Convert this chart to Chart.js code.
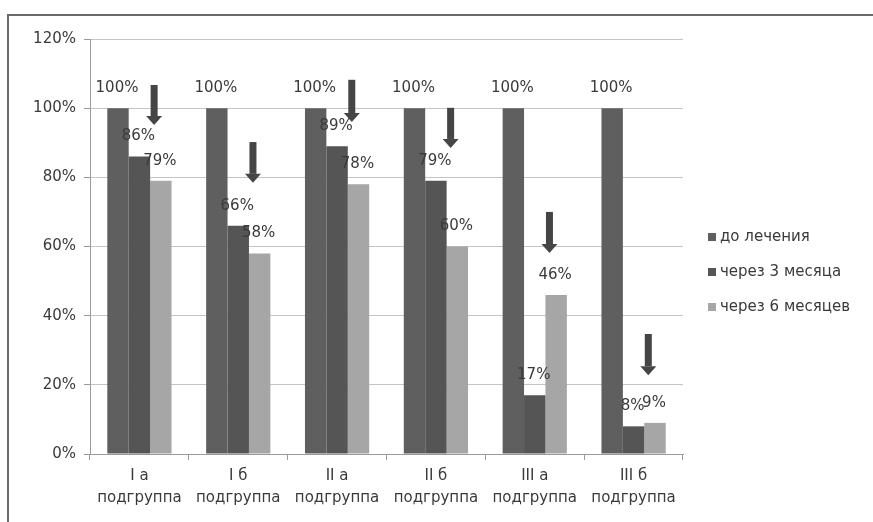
<!DOCTYPE html>
<html>
<head>
<meta charset="utf-8">
<script src="https://cdn.jsdelivr.net/npm/chart.js@4.4.0/dist/chart.umd.min.js"></script>
<style>
  html, body { margin: 0; padding: 0; background: #fff; }
  #wrap { width: 873px; height: 522px; position: relative; }
</style>
</head>
<body>
<div id="wrap"><canvas id="grafico" width="873" height="522"></canvas></div>
<script>
// ==========================
// Dados
// ==========================
const grupos = [['I а', 'подгруппа'], ['I б', 'подгруппа'], ['II а', 'подгруппа'], ['II б', 'подгруппа'], ['III а', 'подгруппа'], ['III б', 'подгруппа']];
const seriesNomes = ['до лечения', 'через 3 месяца', 'через 6 месяцев'];
const doLecheniya = [100, 100, 100, 100, 100, 100];
const cherez3 = [86, 66, 89, 79, 17, 8];
const cherez6 = [79, 58, 78, 60, 46, 9];
const yTicks = [0, 20, 40, 60, 80, 100, 120];
// setas (em %): início e ponta
const setaTopo = [106.7, 90.2, 108.2, 100.1, 70.0, 34.7];
const setaPonta = [95.1, 78.4, 96.0, 88.5, 58.1, 22.8];

const cores = ['#5f5f5f', '#555555', '#a6a6a6'];
const FONTE = '"DejaVu Sans", sans-serif';
const TXT = '#3a3a3a';

// ==========================
// Plugins
// ==========================
const moldura = {
  id: 'moldura',
  beforeDraw(chart) {
    const c = chart.ctx;
    c.save();
    c.strokeStyle = '#6a6a6a';
    c.lineWidth = 2;
    c.beginPath();
    c.moveTo(8, 522);
    c.lineTo(8, 15);
    c.lineTo(873, 15);
    c.stroke();
    c.restore();
  }
};

const rotulos = {
  id: 'rotulos',
  afterDatasetsDraw(chart) {
    const c = chart.ctx;
    c.save();
    c.font = '15px ' + FONTE;
    c.fillStyle = TXT;
    c.textAlign = 'center';
    c.textBaseline = 'middle';
    chart.data.datasets.forEach((ds, i) => {
      chart.getDatasetMeta(i).data.forEach((bar, j) => {
        c.fillText(ds.data[j] + '%', bar.x - 1, bar.y - 20);
      });
    });
    c.restore();
  }
};

const setas = {
  id: 'setas',
  afterDatasetsDraw(chart) {
    const c = chart.ctx;
    const y = chart.scales.y;
    const m2 = chart.getDatasetMeta(1).data;
    const m3 = chart.getDatasetMeta(2).data;
    c.save();
    c.fillStyle = '#454545';
    setaTopo.forEach((topo, j) => {
      const x = (m2[j].x + m3[j].x) / 2 + 4;
      const y0 = y.getPixelForValue(topo);
      const y1 = y.getPixelForValue(setaPonta[j]);
      const cab = 9;
      c.fillRect(x - 3.5, y0, 7, y1 - y0 - cab);
      c.beginPath();
      c.moveTo(x - 8, y1 - cab);
      c.lineTo(x + 8, y1 - cab);
      c.lineTo(x, y1);
      c.closePath();
      c.fill();
    });
    c.restore();
  }
};

const legenda = {
  id: 'legenda',
  afterDraw(chart) {
    const c = chart.ctx;
    c.save();
    c.font = '15px ' + FONTE;
    c.textBaseline = 'middle';
    chart.data.datasets.forEach((ds, i) => {
      const yy = 237 + i * 35;
      c.fillStyle = ds.backgroundColor;
      c.fillRect(708, yy - 4, 8, 8);
      c.fillStyle = TXT;
      c.fillText(ds.label, 720, yy);
    });
    c.restore();
  }
};

// ==========================
// Gráfico
// ==========================
const ctx = document.getElementById('grafico').getContext('2d');
const grafico = new Chart(ctx, {
  type: 'bar',
  data: {
    labels: grupos,
    datasets: [
      { label: seriesNomes[0], data: doLecheniya, backgroundColor: cores[0] },
      { label: seriesNomes[1], data: cherez3, backgroundColor: cores[1] },
      { label: seriesNomes[2], data: cherez6, backgroundColor: cores[2] }
    ]
  },
  options: {
    responsive: false,
    animation: false,
    layout: { padding: { top: 39, right: 190, left: 0, bottom: 0 } },
    datasets: { bar: { categoryPercentage: 0.65, barPercentage: 1.0 } },
    plugins: { legend: { display: false }, tooltip: { enabled: false } },
    scales: {
      x: {
        grid: { drawOnChartArea: false, tickLength: 6, color: '#9a9a9a', offset: true },
        border: { color: '#9a9a9a' },
        ticks: { color: TXT, font: { family: FONTE, size: 15, lineHeight: 1.45 }, padding: 5, maxRotation: 0 },
        afterFit: s => { s.height = 68; }
      },
      y: {
        min: 0, max: 120,
        afterBuildTicks: s => { s.ticks = yTicks.map(v => ({ value: v })); },
        grid: { color: '#c4c4c4', tickLength: 6, tickColor: '#9a9a9a' },
        border: { color: '#9a9a9a' },
        ticks: { color: TXT, font: { family: FONTE, size: 15 }, padding: 8, callback: v => v + '%' },
        afterFit: s => { s.width = 90; }
      }
    }
  },
  plugins: [moldura, rotulos, setas, legenda]
});
</script>
</body>
</html>
